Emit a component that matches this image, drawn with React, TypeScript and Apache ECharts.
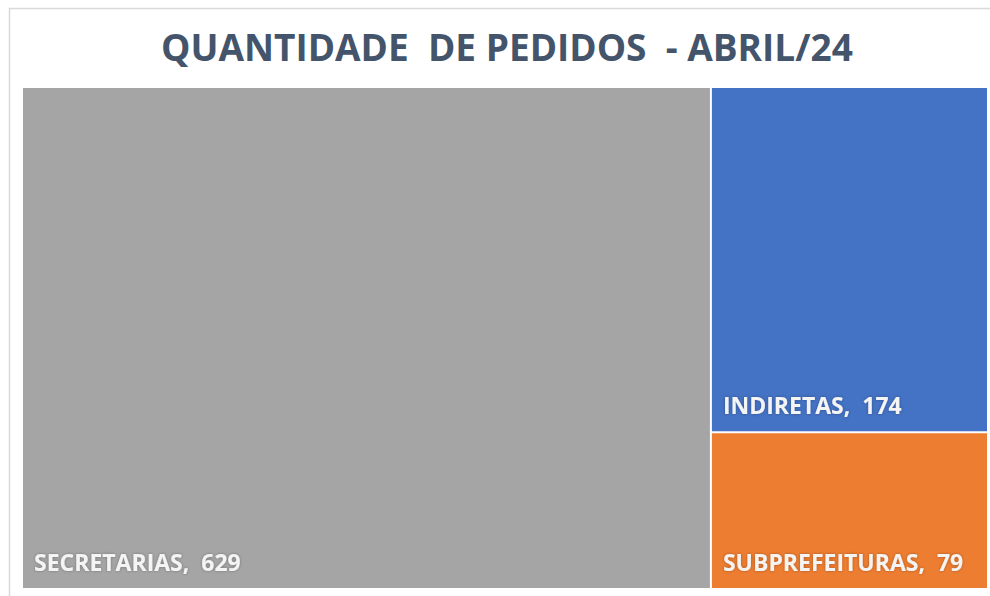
import React, { useEffect, useRef } from "react";
import * as echarts from "echarts";

const categories = ["SECRETARIAS", "INDIRETAS", "SUBPREFEITURAS"];
const values = [629, 174, 79];
const colors = ["#A5A5A5", "#4472C4", "#ED7D31"];
const titleText = "QUANTIDADE  DE PEDIDOS  - ABRIL/24";

export default function App() {
  const ref = useRef<HTMLDivElement>(null);
  useEffect(() => {
    if (!ref.current) return;
    const chart = echarts.init(ref.current, null, { renderer: "svg" });
    const data = categories.map((name, i) => ({
      name,
      value: values[i],
      itemStyle: { color: colors[i] },
    }));
    chart.setOption({
      animation: false,
      backgroundColor: "#ffffff",
      title: {
        text: titleText,
        left: 161,
        top: 28,
        padding: 0,
        textStyle: {
          fontFamily: "Open Sans",
          fontWeight: "bold",
          fontSize: 37,
          color: "#44546A",
        },
      },
      graphic: [
        {
          type: "rect",
          left: 7,
          top: 6,
          shape: { x: 0, y: 0, width: 1000, height: 600 },
          style: { fill: "none", stroke: "#D9D9D9", lineWidth: 1.5 },
          silent: true,
          z: 100,
        },
      ],
      series: [
        {
          type: "treemap",
          left: 23,
          top: 88,
          right: 3,
          bottom: 8,
          roam: false,
          nodeClick: false,
          breadcrumb: { show: false },
          itemStyle: { borderColor: "#ffffff", borderWidth: 0, gapWidth: 2 },
          label: {
            show: true,
            position: "insideBottomLeft",
            distance: 7,
            offset: [-1, -3],
            formatter: "{b},  {c}",
            fontFamily: "Open Sans",
            fontWeight: "bold",
            fontSize: 23,
            color: "#F4F4F4",
            textShadowColor: "rgba(0,0,0,0.3)",
            textShadowBlur: 3,
          },
          upperLabel: { show: false },
          data,
        },
      ],
    });
    return () => chart.dispose();
  }, []);
  return (
    <div
      ref={ref}
      style={{ position: "fixed", left: 0, top: 0, width: 990, height: 596 }}
    />
  );
}
